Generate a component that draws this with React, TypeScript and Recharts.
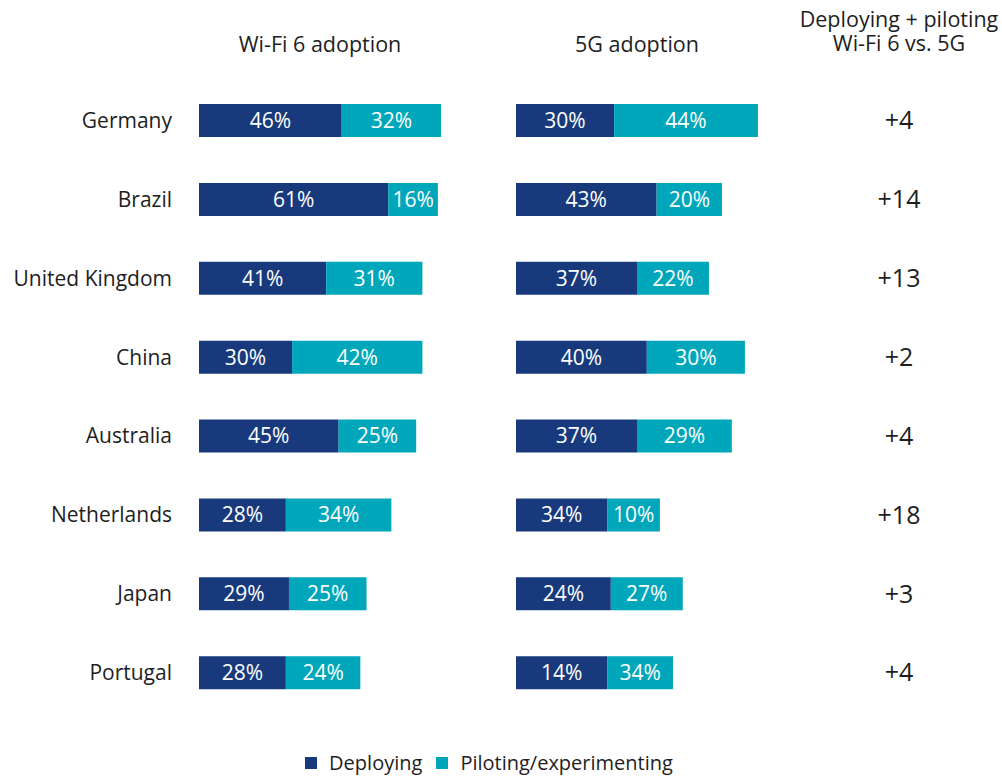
import React from "react";
import { BarChart, Bar, XAxis, YAxis, LabelList, Legend } from "recharts";

const countries = ["Germany", "Brazil", "United Kingdom", "China", "Australia", "Netherlands", "Japan", "Portugal"];
// Wi-Fi 6 (bar lengths and printed labels agree)
const wifiDeploying = [46, 61, 41, 30, 45, 28, 29, 28];
const wifiPiloting = [32, 16, 31, 42, 25, 34, 25, 24];
// 5G: bar lengths as drawn in the reference
const fiveGDeploying = [30, 43, 37, 40, 37, 28, 29, 28];
const fiveGPiloting = [44, 20, 22, 30, 29, 16, 22, 20];
// 5G: percentages printed on the bars in the reference
const fiveGDeployingLabels = [30, 43, 37, 40, 37, 34, 24, 14];
const fiveGPilotingLabels = [44, 20, 22, 30, 29, 10, 27, 34];
const diffLabels = ["+4", "+14", "+13", "+2", "+4", "+18", "+3", "+4"];

const seriesNames = ["Deploying", "Piloting/experimenting"];
const panelTitles = ["Wi-Fi 6 adoption", "5G adoption"];
const diffTitle = ["Deploying + piloting", "Wi-Fi 6 vs. 5G"];

const NAVY = "#183A7C";
const TEAL = "#00A7BA";
const TEXT = "#1e1e1e";
const FONT = "'Open Sans', sans-serif";

const wifiData = countries.map((c, i) => ({
  country: c,
  dep: wifiDeploying[i],
  pil: wifiPiloting[i],
  depLabel: wifiDeploying[i],
  pilLabel: wifiPiloting[i],
}));
const fiveGData = countries.map((c, i) => ({
  country: c,
  dep: fiveGDeploying[i],
  pil: fiveGPiloting[i],
  depLabel: fiveGDeployingLabels[i],
  pilLabel: fiveGPilotingLabels[i],
}));

const W = 1002;
const H = 778;
const MARGIN_TOP = 81;
const MARGIN_BOTTOM = 66;
const BAR_SIZE = 33;
const BAR_LABEL_SIZE = 21;

const pct = (v: any) => `${v}%`;

const DiffTick = (props: any) => {
  const { x, y, payload } = props;
  return (
    <text x={x} y={y} dy="0.355em" textAnchor="middle" fill={TEXT} fontSize={25} fontFamily={FONT}>
      {diffLabels[payload.index]}
    </text>
  );
};

const LegendContent = (props: any) => {
  const items = props.payload || [];
  return (
    <div style={{ display: "flex", justifyContent: "center", alignItems: "center", fontFamily: FONT, fontSize: 20, color: TEXT }}>
      {items.map((it: any, i: number) => (
        <div key={i} style={{ display: "flex", alignItems: "center", marginRight: i === 0 ? 14 : 0 }}>
          <span style={{ display: "inline-block", width: 12, height: 12, background: it.color, marginRight: 12 }} />
          <span style={{ lineHeight: "24px" }}>{it.value}</span>
        </div>
      ))}
    </div>
  );
};

const barLabels = (key: string) => (
  <LabelList dataKey={key} position="center" formatter={pct} fill="#fff" fontSize={BAR_LABEL_SIZE} fontFamily={FONT} />
);

export default function App() {
  return (
    <div style={{ position: "absolute", left: 0, top: 0, width: W, height: H, background: "#fff", fontFamily: FONT }}>
      <div style={{ position: "absolute", left: 0, top: 0 }}>
        <BarChart width={W} height={H} data={wifiData} layout="vertical" margin={{ top: MARGIN_TOP, right: 561, bottom: MARGIN_BOTTOM, left: 0 }}>
          <XAxis type="number" domain={[0, "dataMax"]} hide />
          <YAxis
            type="category"
            dataKey="country"
            width={199}
            axisLine={false}
            tickLine={false}
            tickSize={0}
            tickMargin={27}
            tick={{ fill: TEXT, fontSize: 21, fontFamily: FONT }}
          />
          <Bar dataKey="dep" name={seriesNames[0]} stackId="a" fill={NAVY} barSize={BAR_SIZE} isAnimationActive={false}>
            {barLabels("depLabel")}
          </Bar>
          <Bar dataKey="pil" name={seriesNames[1]} stackId="a" fill={TEAL} barSize={BAR_SIZE} isAnimationActive={false}>
            {barLabels("pilLabel")}
          </Bar>
          <Legend
            layout="horizontal"
            verticalAlign="middle"
            align="center"
            content={<LegendContent />}
            wrapperStyle={{ left: 0, top: 751, width: 978 }}
          />
        </BarChart>
      </div>
      <div style={{ position: "absolute", left: 0, top: 0 }}>
        <BarChart width={W} height={H} data={fiveGData} layout="vertical" margin={{ top: MARGIN_TOP, right: 0, bottom: MARGIN_BOTTOM, left: 516 }}>
          <XAxis type="number" domain={[0, "dataMax"]} hide />
          <YAxis
            type="category"
            dataKey="country"
            orientation="right"
            width={244}
            axisLine={false}
            tickLine={false}
            tickSize={0}
            tickMargin={141}
            tick={<DiffTick />}
          />
          <Bar dataKey="dep" name={seriesNames[0]} stackId="b" fill={NAVY} barSize={BAR_SIZE} isAnimationActive={false}>
            {barLabels("depLabel")}
          </Bar>
          <Bar dataKey="pil" name={seriesNames[1]} stackId="b" fill={TEAL} barSize={BAR_SIZE} isAnimationActive={false}>
            {barLabels("pilLabel")}
          </Bar>
        </BarChart>
      </div>
      <div style={{ position: "absolute", left: 199, width: 242, top: 32, textAlign: "center", fontSize: 21.5, lineHeight: "24px", color: TEXT }}>
        {panelTitles[0]}
      </div>
      <div style={{ position: "absolute", left: 516, width: 242, top: 32, textAlign: "center", fontSize: 21.5, lineHeight: "24px", color: TEXT }}>
        {panelTitles[1]}
      </div>
      <div style={{ position: "absolute", left: 790, width: 218, top: 7, textAlign: "center", fontSize: 21.5, lineHeight: "24px", color: TEXT }}>
        <div>{diffTitle[0]}</div>
        <div>{diffTitle[1]}</div>
      </div>
    </div>
  );
}
